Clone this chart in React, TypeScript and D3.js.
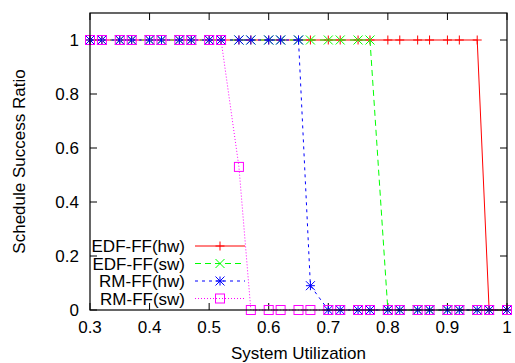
import React from "react";
import * as d3 from "d3";

const utilization = [0.3, 0.32, 0.35, 0.37, 0.4, 0.42, 0.45, 0.47, 0.5, 0.52, 0.55, 0.57, 0.6, 0.62, 0.65, 0.67, 0.7, 0.72, 0.75, 0.77, 0.8, 0.82, 0.85, 0.87, 0.9, 0.92, 0.95, 0.97, 1.0];
const edfHw = [1, 1, 1, 1, 1, 1, 1, 1, 1, 1, 1, 1, 1, 1, 1, 1, 1, 1, 1, 1, 1, 1, 1, 1, 1, 1, 1, 0, 0];
const edfSw = [1, 1, 1, 1, 1, 1, 1, 1, 1, 1, 1, 1, 1, 1, 1, 1, 1, 1, 1, 1, 0, 0, 0, 0, 0, 0, 0, 0, 0];
const rmHw = [1, 1, 1, 1, 1, 1, 1, 1, 1, 1, 1, 1, 1, 1, 1, 0.09, 0, 0, 0, 0, 0, 0, 0, 0, 0, 0, 0, 0, 0];
const rmSw = [1, 1, 1, 1, 1, 1, 1, 1, 1, 1, 0.53, 0, 0, 0, 0, 0, 0, 0, 0, 0, 0, 0, 0, 0, 0, 0, 0, 0, 0];
const seriesNames = ["EDF-FF(hw)", "EDF-FF(sw)", "RM-FF(hw)", "RM-FF(sw)"];
const xTicks = [0.3, 0.4, 0.5, 0.6, 0.7, 0.8, 0.9, 1];
const yTicks = [0, 0.2, 0.4, 0.6, 0.8, 1];

const W = 515, H = 363;
const L = 90, R = 507, T = 13, B = 310;
const FONT = "'Liberation Sans', Arial, Helvetica, sans-serif";
const FS = 17;

type Style = { color: string; dash: string; marker: string };
const styles: Style[] = [
  { color: "#ff0000", dash: "none", marker: "plus" },
  { color: "#00ff00", dash: "6,4", marker: "cross" },
  { color: "#0000ff", dash: "3,4", marker: "star" },
  { color: "#ff00ff", dash: "1,2", marker: "square" },
];

function Marker({ x, y, kind, color }: { x: number; y: number; kind: string; color: string }) {
  const s = 4.5;
  if (kind === "plus") {
    return <path d={`M${x - s},${y}H${x + s}M${x},${y - s}V${y + s}`} stroke={color} strokeWidth={1} fill="none" />;
  }
  if (kind === "cross") {
    return <path d={`M${x - s},${y - s}L${x + s},${y + s}M${x - s},${y + s}L${x + s},${y - s}`} stroke={color} strokeWidth={1} fill="none" />;
  }
  if (kind === "star") {
    return <path d={`M${x - s},${y}H${x + s}M${x},${y - s}V${y + s}M${x - s},${y - s}L${x + s},${y + s}M${x - s},${y + s}L${x + s},${y - s}`} stroke={color} strokeWidth={1} fill="none" />;
  }
  return <rect x={x - s} y={y - s} width={2 * s} height={2 * s} stroke={color} strokeWidth={1} fill="none" />;
}

export default function App() {
  const x = d3.scaleLinear().domain([0.3, 1]).range([L, R]);
  const y = d3.scaleLinear().domain([0, 1.1]).range([B, T]);
  const allSeries = [edfHw, edfSw, rmHw, rmSw];
  const line = d3.line<[number, number]>().x((d) => x(d[0])).y((d) => y(d[1]));
  const legendY = [246, 263.5, 281, 298.5];
  const tl = 7;

  return (
    <svg width={W} height={H} style={{ position: "absolute", left: 0, top: 0, background: "#fff" }} fontFamily={FONT} fontSize={FS}>
      {xTicks.map((t) => (
        <g key={"xt" + t}>
          <line x1={x(t)} x2={x(t)} y1={B} y2={B - tl} stroke="#000" />
          <line x1={x(t)} x2={x(t)} y1={T} y2={T + tl} stroke="#000" />
          <text x={x(t)} y={333} textAnchor="middle">{String(t)}</text>
        </g>
      ))}
      {yTicks.map((t) => (
        <g key={"yt" + t}>
          <line x1={L} x2={L + tl} y1={y(t)} y2={y(t)} stroke="#000" />
          <line x1={R} x2={R - tl} y1={y(t)} y2={y(t)} stroke="#000" />
          <text x={79} y={y(t) + 6} textAnchor="end">{String(t)}</text>
        </g>
      ))}
      {allSeries.map((vals, i) => {
        const pts: [number, number][] = utilization.map((u, j) => [u, vals[j]]);
        return (
          <g key={"s" + i}>
            <path d={line(pts) || ""} fill="none" stroke={styles[i].color} strokeWidth={1} strokeDasharray={styles[i].dash} />
            {pts.map((p, j) => (
              <Marker key={j} x={x(p[0])} y={y(p[1])} kind={styles[i].marker} color={styles[i].color} />
            ))}
          </g>
        );
      })}
      {seriesNames.map((n, i) => (
        <g key={"lg" + i}>
          <text x={185} y={legendY[i] + 6} textAnchor="end">{n}</text>
          <line x1={195} x2={245} y1={legendY[i]} y2={legendY[i]} stroke={styles[i].color} strokeWidth={1} strokeDasharray={styles[i].dash} />
          <Marker x={220} y={legendY[i]} kind={styles[i].marker} color={styles[i].color} />
        </g>
      ))}
      <rect x={L} y={T} width={R - L} height={B - T} fill="none" stroke="#000" strokeWidth={1.2} />
      <text x={(L + R) / 2} y={359} textAnchor="middle">System Utilization</text>
      <text transform={`translate(25,${(T + B) / 2}) rotate(-90)`} textAnchor="middle">Schedule Success Ratio</text>
    </svg>
  );
}
